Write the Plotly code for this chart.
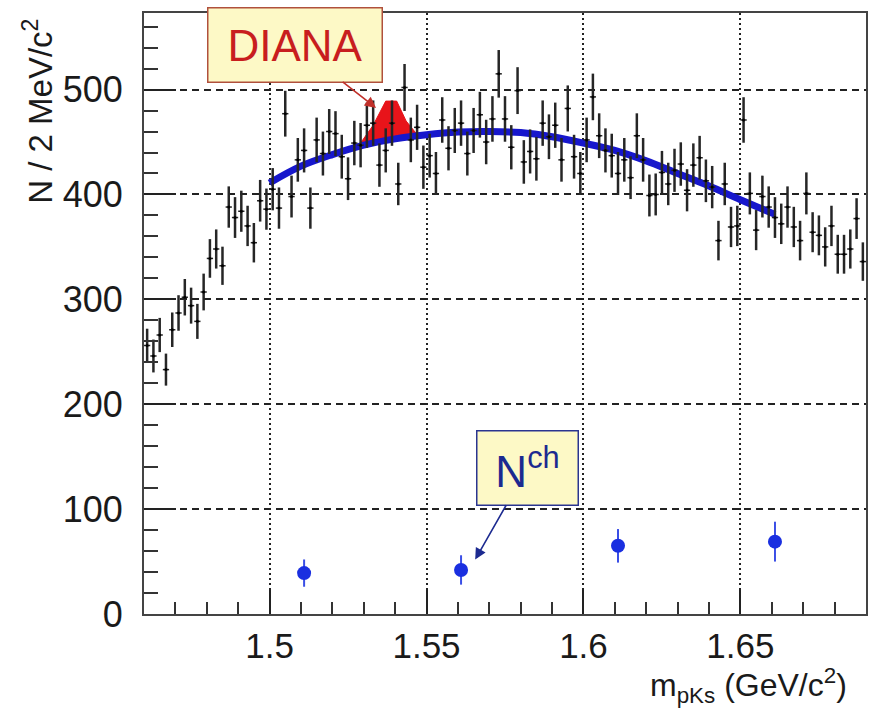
import numpy as np
import plotly.graph_objects as go

# ---- data: pKs invariant-mass histogram (2 MeV bins from 1.46 to 1.69 GeV) ----
bin_lo = 1.46
bin_width = 0.002
counts = [
    256, 246, 266, 233, 271, 287, 302, 294, 279, 307, 339, 348, 332, 388, 378, 384, 370, 354, 394, 386,
    405, 387, 477, 398, 433, 442, 387, 452, 439, 460, 458, 436, 415, 449, 447, 466, 468, 428, 442, 468,
    410, 502, 452, 464, 426, 437, 420, 471, 444, 461, 468, 439, 461, 476, 450, 472, 515, 472, 445,
    499, 431, 441, 434, 468, 455, 466, 433, 482, 436, 420, 452, 493, 456, 442, 437, 420, 433, 416, 456,
    433, 399, 400, 421, 410, 423, 429, 404, 428, 435, 413, 407, 356, 410, 369, 370, 471, 401, 366,
    398, 388, 378, 372, 388, 369, 356, 401, 364, 361, 350, 370, 343, 343, 348, 377, 336,
]
bin_centers = [round(bin_lo + bin_width * (i + 0.5), 4) for i in range(len(counts))]

# ---- background fit curve ----
fit_x = [1.500, 1.510, 1.520, 1.530, 1.540, 1.550, 1.560, 1.570, 1.580, 1.590,
         1.600, 1.610, 1.620, 1.630, 1.640, 1.650, 1.661]
fit_y = [411, 427, 438, 447, 453, 457, 459.5, 460, 459, 455,
         449, 442, 432, 420, 408, 395, 381]

# ---- DIANA signal (red peak on top of fit) ----
diana_x = [1.5285, 1.533, 1.537, 1.5405, 1.5435, 1.5465, 1.548, 1.548, 1.544, 1.540, 1.535, 1.5285]
diana_y = [447, 466, 489, 489, 470, 459, 457, 454, 453, 452, 450, 446]

# ---- N^ch points ----
nch_x = [1.511, 1.561, 1.611, 1.661]
nch_y = [39, 42, 65, 69]
nch_err = [13, 14, 16, 19]

# ---- label boxes: box centre and arrow tip (data coordinates) ----
diana_box = (1.50808, 542.8)
diana_tip = (1.53393, 482.4)
nch_box = (1.58212, 139.2)
nch_tip = (1.5655, 51.9)

# ---- axes ----
x_range = [1.46, 1.69]
y_range = [0, 573]
x_tickvals = [1.5, 1.55, 1.6, 1.65]
x_ticktext = ["1.5", "1.55", "1.6", "1.65"]
y_tickvals = [0, 100, 200, 300, 400, 500]
y_ticktext = ["0", "100", "200", "300", "400", "500"]

FONT = "Liberation Sans, Arial, Helvetica, sans-serif"

fig = go.Figure()

fig.add_trace(go.Scatter(
    x=diana_x, y=diana_y, mode="lines", fill="toself",
    fillcolor="#e8141a", line=dict(color="#e8141a", width=1), hoverinfo="skip"))

fig.add_trace(go.Scatter(
    x=fit_x, y=fit_y, mode="lines",
    line=dict(color="#1717cc", width=7, shape="spline"), hoverinfo="skip"))

fig.add_trace(go.Scatter(
    x=bin_centers, y=counts, mode="markers",
    marker=dict(color="black", size=3),
    error_y=dict(type="sqrt", color="#262626", thickness=2.5, width=0),
    error_x=dict(type="constant", value=bin_width / 2, color="#262626", thickness=1.5, width=0)))

fig.add_trace(go.Scatter(
    x=nch_x, y=nch_y, mode="markers",
    marker=dict(color="#1a2fe0", size=14, symbol="circle"),
    error_y=dict(type="data", array=nch_err, color="#3a4ee6", thickness=2, width=0)))

fig.update_xaxes(
    range=x_range, showgrid=True, gridcolor="#222", gridwidth=1.5, griddash="2px,3px",
    tickmode="array", tickvals=x_tickvals, ticktext=x_ticktext,
    ticks="inside", ticklen=26, tickwidth=2, tickcolor="#222",
    minor=dict(dtick=0.01, tick0=1.46, ticks="inside", ticklen=12, tickwidth=2,
               tickcolor="#333", showgrid=False),
    showline=True, linecolor="#444", linewidth=2, mirror=True, zeroline=False,
    tickfont=dict(family=FONT, size=35, color="#1a1a1a"), ticklabelstandoff=0)

fig.update_yaxes(
    range=y_range, showgrid=True, gridcolor="#222", gridwidth=1.5, griddash="7px,5px",
    tickmode="array", tickvals=y_tickvals, ticktext=y_ticktext,
    ticks="inside", ticklen=32, tickwidth=2, tickcolor="#222",
    minor=dict(dtick=20, tick0=0, ticks="inside", ticklen=14, tickwidth=2,
               tickcolor="#333", showgrid=False),
    showline=True, linecolor="#444", linewidth=2, mirror=True, zeroline=False,
    tickfont=dict(family=FONT, size=36, color="#1a1a1a"), ticklabelstandoff=12)

annotations = [
    # DIANA label box with arrow
    dict(x=diana_tip[0], y=diana_tip[1], xref="x", yref="y",
         ax=diana_box[0], ay=diana_box[1], axref="x", ayref="y",
         text="DIANA", showarrow=True, arrowhead=2, arrowsize=1.4, arrowwidth=1.6,
         arrowcolor="#c0302a", standoff=0,
         font=dict(family=FONT, size=44, color="#c81e1e"),
         bgcolor="#fdf9c6", bordercolor="#b0503c", borderwidth=1.5, borderpad=0,
         width=173, height=73, xanchor="center", yanchor="middle"),
    # Nch label box with arrow
    dict(x=nch_tip[0], y=nch_tip[1], xref="x", yref="y",
         ax=nch_box[0], ay=nch_box[1], axref="x", ayref="y",
         text="N<sup>ch</sup>", showarrow=True, arrowhead=2, arrowsize=1.4, arrowwidth=1.6,
         arrowcolor="#1c2a90", standoff=0,
         font=dict(family=FONT, size=44, color="#1c2a90"),
         bgcolor="#fdf9c6", bordercolor="#2a3590", borderwidth=1.5, borderpad=0,
         width=100, height=73, xanchor="center", yanchor="middle"),
    # axis titles
    dict(x=1.0, y=0, xref="paper", yref="paper", xanchor="right", yanchor="bottom",
         xshift=-18, yshift=-94.5, showarrow=False, borderpad=0,
         text="m<sub>pKs</sub> (GeV/c<sup>2</sup>)",
         font=dict(family=FONT, size=32, color="#1a1a1a")),
    dict(x=-0.1478, y=1.0, xref="paper", yref="paper", xanchor="center", yanchor="top",
         yshift=-4, showarrow=False, textangle=-90,
         text="N / 2 MeV/c<sup>2</sup>",
         font=dict(family=FONT, size=33, color="#1a1a1a")),
]

fig.update_layout(
    width=870, height=709,
    margin=dict(l=144, r=2, t=13, b=95),
    paper_bgcolor="white", plot_bgcolor="white",
    showlegend=False, annotations=annotations,
)

fig.write_html("out.html")
